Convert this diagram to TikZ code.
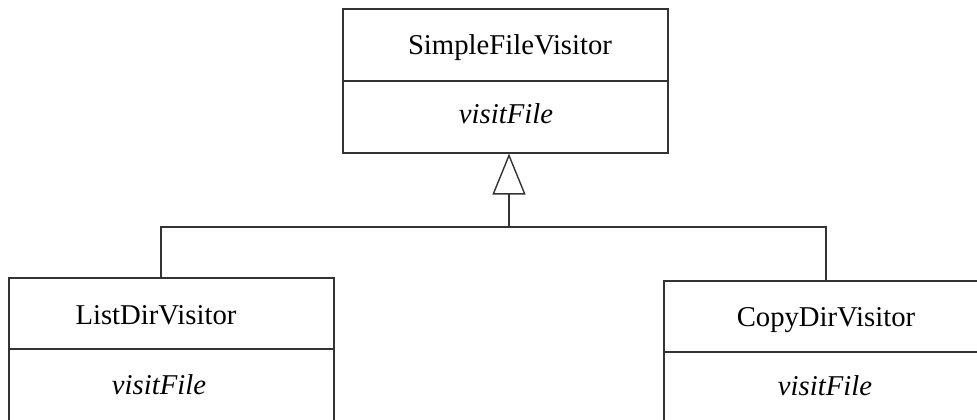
\documentclass[tikz,border=0pt]{standalone}
\usepackage{fontspec}
\setmainfont{Liberation Serif}
\usetikzlibrary{arrows.meta}

\definecolor{umlline}{HTML}{333333}

\tikzset{
  compartment/.style={draw=umlline, line width=1.6pt, inner sep=0pt, minimum width=#1, minimum height=71.5pt},
  classname/.style={anchor=base, inner sep=0pt, font=\fontsize{28.7}{34}\selectfont},
  method/.style={anchor=base, inner sep=0pt, font=\fontsize{28.7}{34}\selectfont\itshape},
  inherit/.style={draw=umlline, line width=1.6pt, -{Triangle[open, length=41pt, width=33pt, line width=1.4pt]}},
  link/.style={draw=umlline, line width=1.6pt}
}

\begin{document}
\begin{tikzpicture}[x=1pt, y=-1pt]
\useasboundingbox (0,0) rectangle (977,420);
\clip (0,0) rectangle (977,420);

% base class
\node[compartment=325pt] (sfv)    at (505.5,45)  {};
\node[compartment=325pt] (sfvops) at (505.5,117) {};
\node[classname] (sfvname) at (510,55)  {SimpleFileVisitor};
\node[method]    (sfvm)    at (506,123) {visitFile};

% subclasses
\node[compartment=325pt] (ldv)    at (171.5,313.5) {};
\node[compartment=325pt] (ldvops) at (171.5,385)   {};
\node[classname] (ldvname) at (156,324) {ListDirVisitor};
\node[method]    (ldvm)    at (159,394) {visitFile};

\node[compartment=324pt] (cdv)    at (826,316.5) {};
\node[compartment=324pt] (cdvops) at (826,388)   {};
\node[classname] (cdvname) at (826,326) {CopyDirVisitor};
\node[method]    (cdvm)    at (825,395) {visitFile};

% generalization
\coordinate (hub)    at (509,227);
\coordinate (ldvtop) at (161,278);
\draw[link] (ldvtop) |- (hub) -| (cdv.north);
\draw[inherit] (hub) -- (hub |- sfvops.south);
\end{tikzpicture}
\end{document}
